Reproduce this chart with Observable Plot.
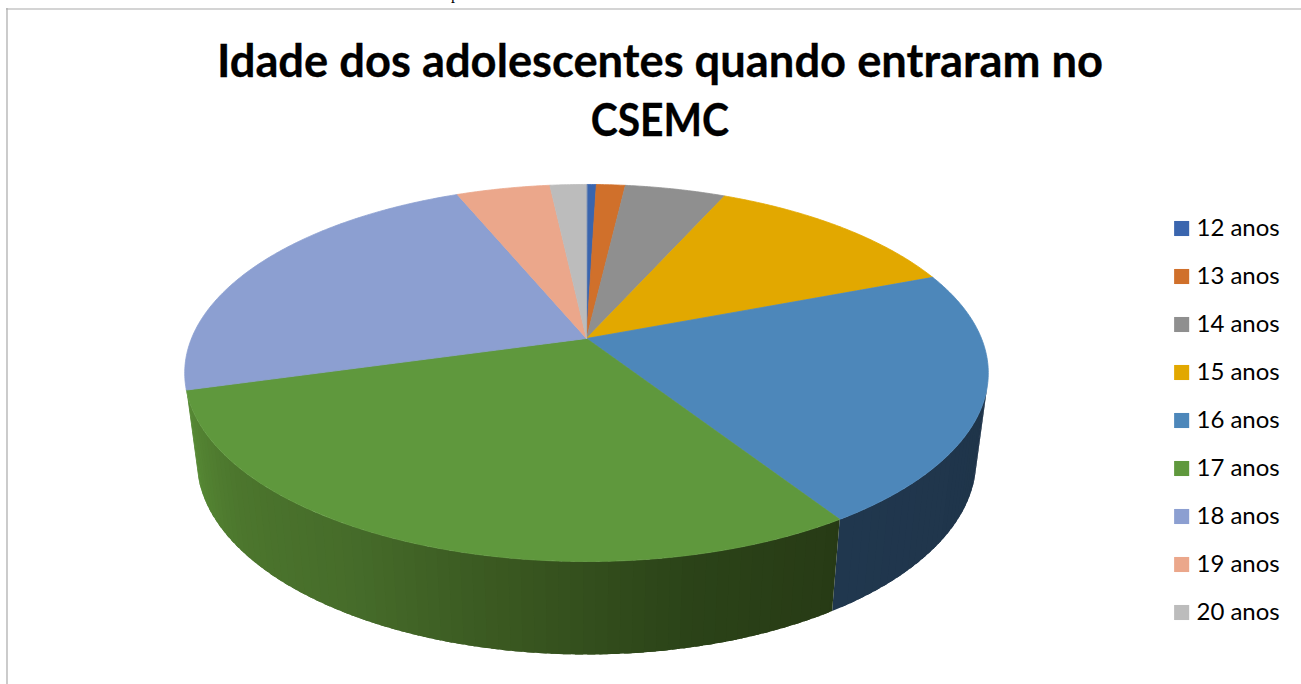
<!DOCTYPE html>
<html lang="pt">
<head>
<meta charset="utf-8">
<script src="https://cdn.jsdelivr.net/npm/d3@7"></script>
<script src="https://cdn.jsdelivr.net/npm/@observablehq/plot@0.6"></script>
<style>
html,body{margin:0;padding:0;background:#fff;overflow:hidden}
#page{position:relative;width:1301px;height:684px;overflow:hidden}
#page svg{position:absolute;background:transparent}
#title{position:absolute;left:0;width:1320px;top:30px;text-align:center;font:700 45.3px/59px Lato,sans-serif;color:#000;margin:0;-webkit-text-stroke:0.3px #000}
#title span{display:inline-block;transform:scaleX(0.9)}
#frag{position:absolute;left:451px;top:-14px;font:16px/16px "Liberation Serif",serif;color:#000}
</style>
</head>
<body>
<div id="page">
<span id="frag">p</span>
<h1 id="title">Idade dos adolescentes quando entraram no<br><span>CSEMC</span></h1>
</div>
<script>
const categories = ["12 anos","13 anos","14 anos","15 anos","16 anos","17 anos","18 anos","19 anos","20 anos"];
const shares = [0.47,1.39,4.83,12.5,21.7,29.8,23.1,4.5,1.75];
const colors = ["#3a65ae","#d0702b","#8f8f8f","#e2a800","#4d87ba","#5f983d","#8c9fd1","#eba78b","#bcbcbc"];
const wallColors = {"16 anos":["#1f3449","#20374e"],"17 anos":["#273a15","#2b4318","#395720","#466c2a","#4c762d","#578a35"]};

// Perspective view of the pie: apex, radii and thickness
const view = {cx:586, cy:338, a:395, b:182.2, k:-0.183, ringX:0.97, ringY:1.03, drop:86.3};
const project = (deg, bottom) => {
  const t = deg*Math.PI/180, u = Math.sin(t), v = -Math.cos(t), w = 1+view.k*v;
  const X = view.a*u/w, Y = view.b*v/w;
  return bottom ? [view.cx+view.ringX*X, view.cy+view.drop+view.ringY*Y] : [view.cx+X, view.cy+Y];
};

const total = d3.sum(shares);
let acc = 0;
const slices = categories.map((name,i)=>{
  const start = acc/total*360; acc += shares[i];
  return {name, start, end: acc/total*360, color: colors[i]};
});

const sample = (a,b,step) => {
  const n = Math.max(1,Math.ceil((b-a)/step));
  return d3.range(n+1).map(j=>a+(b-a)*j/n);
};

// top face polygons
const topFace = slices.flatMap(s=>{
  const pts = [[view.cx,view.cy],...sample(s.start,s.end,0.5).map(d=>project(d,false))];
  return pts.map(([x,y])=>({x,y,id:s.name,color:s.color}));
});

// side wall strips: each is drawn from the far end of its neighbour, so the strips overlap with no seam
const wallFrom = 104;
const wall = slices.filter(s=>wallColors[s.name]).flatMap(s=>{
  const a = Math.max(s.start,wallFrom), b = s.end;
  const ramp = d3.piecewise(d3.interpolateRgb, wallColors[s.name]);
  const ticks = sample(a,b,1.5);
  return ticks.slice(0,-1).flatMap((d,j)=>{
    const e = ticks[j+1], c = ramp((j+0.5)/(ticks.length-1));
    const back = Math.max(a,d-1);
    const arc = sample(back,e,0.5);
    const poly = [...arc.map(q=>project(q,false)),...arc.slice().reverse().map(q=>project(q,true))];
    return poly.map(([x,y])=>({x,y,id:s.name+j,color:d3.rgb(c).formatHex()}));
  });
});

const chart = Plot.plot({
  width:1301, height:684, margin:0,
  x:{domain:[0,1301],range:[0,1301],axis:null},
  y:{domain:[0,684],range:[0,684],axis:null},
  color:{type:"identity"},
  style:{background:"transparent"},
  marks:[
    Plot.ruleY([8.5],{x1:6,x2:1301,stroke:"#a9a9a9",strokeWidth:1.2}),
    Plot.ruleX([6.5],{y1:8,y2:684,stroke:"#a9a9a9",strokeWidth:1.2}),
    Plot.line(wall,{x:"x",y:"y",z:"id",fill:"color",curve:"linear-closed"}),
    Plot.line(topFace,{x:"x",y:"y",z:"id",fill:"color",stroke:"color",strokeWidth:0.8,curve:"linear-closed"})
  ]
});
chart.style.left="0";chart.style.top="0";

const legendData = categories.map((name,i)=>({name,color:colors[i]}));
const legend = Plot.plot({
  width:141, height:434, margin:0,
  x:{domain:[0,1],range:[0,141],axis:null},
  y:{type:"point",domain:categories,range:[17,403],padding:0,axis:null},
  color:{type:"identity"},
  style:{background:"transparent"},
  marks:[
    Plot.dot(legendData,{x:()=>0.15,y:"name",fill:"color",symbol:"square",r:8.5,stroke:null}),
    Plot.text(legendData,{x:()=>0.255,y:"name",text:"name",textAnchor:"start",fontSize:24,fontFamily:"Lato, sans-serif",fill:"#000"})
  ]
});
legend.style.left="1160px";legend.style.top="210px";

const page=document.getElementById("page");
page.prepend(chart);
page.append(legend);
</script>
</body>
</html>
